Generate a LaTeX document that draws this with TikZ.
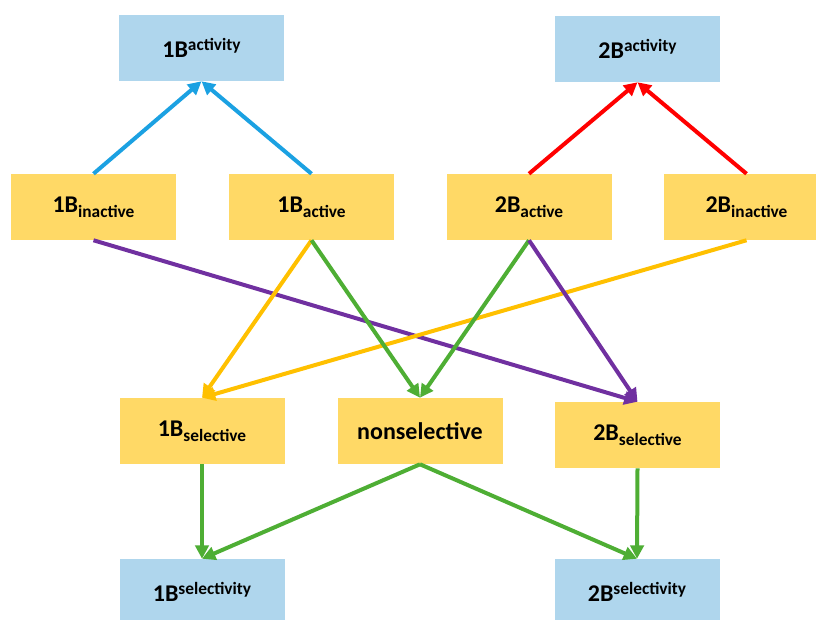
\documentclass[tikz,border=0pt]{standalone}
\usepackage{fontspec}
\setmainfont{Carlito}
\usetikzlibrary{arrows.meta}
\definecolor{boxblue}{HTML}{AFD6ED}
\definecolor{boxgold}{HTML}{FFD966}
\definecolor{lnblue}{RGB}{27,161,226}
\definecolor{lnred}{RGB}{255,0,0}
\definecolor{lnpurple}{RGB}{112,48,160}
\definecolor{lngold}{RGB}{255,192,0}
\definecolor{lngreen}{RGB}{78,174,52}
\newcommand{\supx}[1]{\raisebox{5.5pt}{\fontsize{13}{13}\selectfont #1}}
\newcommand{\subx}[1]{\raisebox{-4pt}{\fontsize{13}{13}\selectfont #1}}
\begin{document}
\begin{tikzpicture}[x=0.75pt,y=-0.75pt,
  basebox/.style={rectangle,minimum width=123.75pt,minimum height=49.5pt,inner sep=0pt,font=\fontsize{18}{20}\selectfont\bfseries},
  bluebox/.style={basebox,fill=boxblue},
  goldbox/.style={basebox,fill=boxgold},
  conn/.style={line width=3pt,-{Triangle[length=10pt,width=10pt]}},
  plain/.style={line width=3pt}
]
\useasboundingbox (0,0) rectangle (816,619);
\node[bluebox] (act1) at (201.5,48) {1B\supx{activity}};
\node[bluebox] (act2) at (637.5,49) {2B\supx{activity}};
\node[goldbox] (in1) at (93.5,207) {1B\subx{inactive}};
\node[goldbox] (ac1) at (311.5,207) {1B\subx{active}};
\node[goldbox] (ac2) at (529,207) {2B\subx{active}};
\node[goldbox] (in2) at (746.5,207) {2B\subx{inactive}};
\node[goldbox] (sel1) at (202,431) {1B\subx{selective}};
\node[goldbox] (non) at (420,431) {nonselective};
\node[goldbox] (sel2) at (637.5,435) {2B\subx{selective}};
\node[bluebox] (sty1) at (202,592) {1B\supx{selectivity}};
\node[bluebox] (sty2) at (637,592) {2B\supx{selectivity}};
% top arrows
\draw[conn,lnblue] (in1.north) -- (act1.south);
\draw[conn,lnblue] (ac1.north) -- (act1.south);
\draw[conn,lnred] (ac2.north) -- (act2.south);
\draw[conn,lnred] (in2.north) -- (act2.south);
% crossing arrows
\draw[conn,lnpurple] (in1.south) -- (sel2.north);
\draw[conn,lngold] (in2.south) -- (sel1.north);
\draw[conn,lngold] (ac1.south) -- (sel1.north);
\draw[conn,lngreen] (ac1.south) -- (non.north);
\draw[conn,lngreen] (ac2.south) -- (non.north);
\draw[conn,lnpurple] (ac2.south) -- (sel2.north);
% bottom arrows
\draw[conn,lngreen] (sel1.south) -- (sty1.north);
\draw[conn,lngreen] (non.south) -- (sty1.north);
\draw[conn,lngreen] (non.south) -- (sty2.north);
\draw[conn,lngreen] (sel2.south) -- (sty2.north);
\end{tikzpicture}
\end{document}
